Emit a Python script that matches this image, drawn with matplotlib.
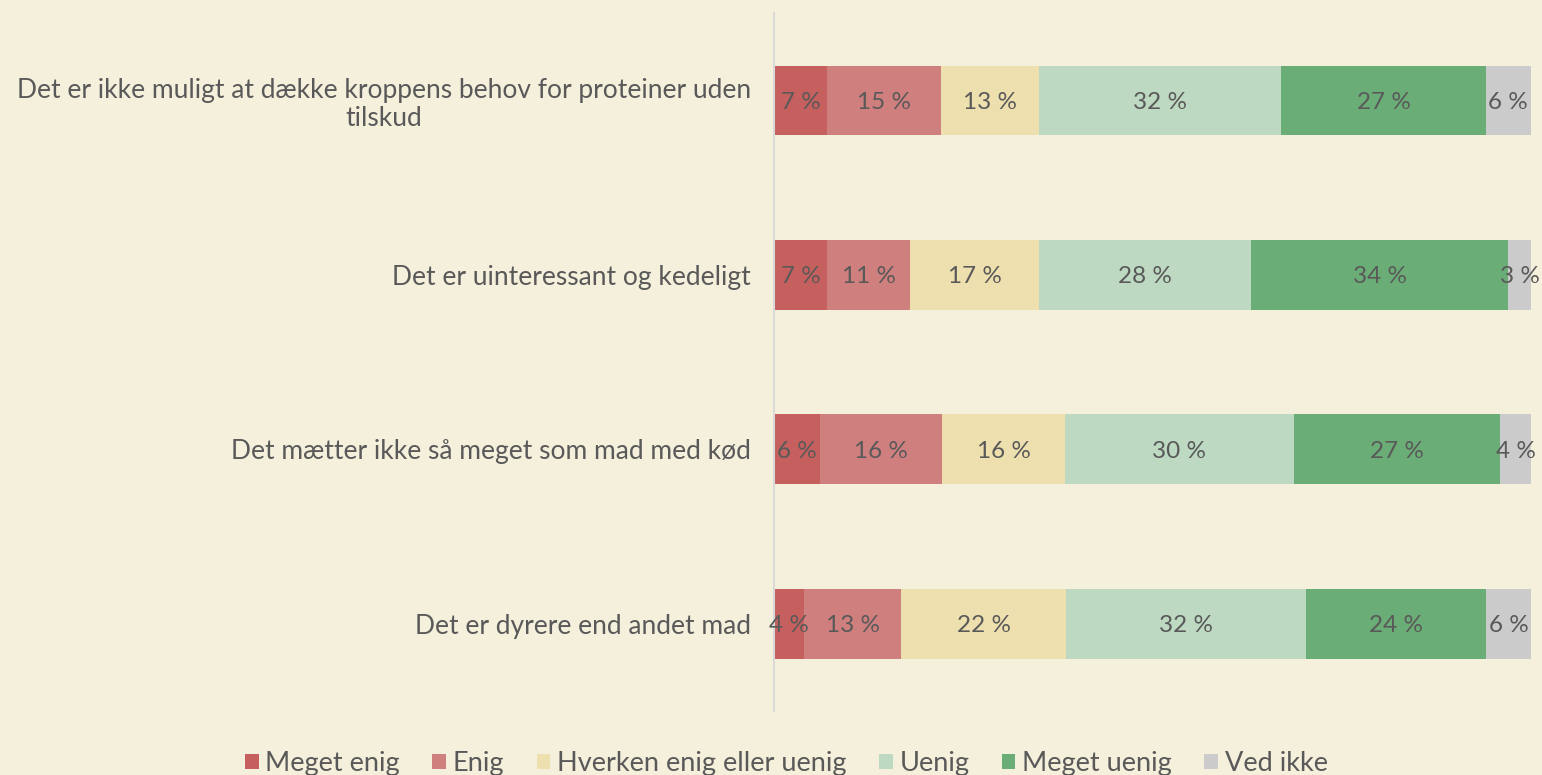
import numpy as np
import matplotlib.pyplot as plt

plt.rcParams['font.family'] = ['Lato', 'DejaVu Sans']

questions = [
    'Det er ikke muligt at dække kroppens behov for proteiner uden\ntilskud',
    'Det er uinteressant og kedeligt',
    'Det mætter ikke så meget som mad med kød',
    'Det er dyrere end andet mad',
]
answers = ['Meget enig', 'Enig', 'Hverken enig eller uenig', 'Uenig',
           'Meget uenig', 'Ved ikke']
colors = ['#C5605E', '#D07F7F', '#EEDFAE', '#BDD9C2', '#6AAD76', '#CBCBCB']

# percent per question, one list per answer
meget_enig = [7, 7, 6, 4]
enig = [15, 11, 16, 13]
hverken = [13, 17, 16, 22]
uenig = [32, 28, 30, 32]
meget_uenig = [27, 34, 27, 24]
ved_ikke = [6, 3, 4, 6]

series = [meget_enig, enig, hverken, uenig, meget_uenig, ved_ikke]
vals = np.array(series, dtype=float)
totals = vals.sum(axis=0)
shares = vals / totals  # stacked to 100 %

bg = '#F5F0DC'
txt = '#595959'

fig = plt.figure(figsize=(15.42, 7.75), dpi=100, facecolor=bg)
ax = fig.add_axes([0.502, 0.0828, 0.4909, 0.9001], facecolor=bg)

y = np.arange(len(questions))
left = np.zeros(len(questions))
for i, name in enumerate(answers):
    ax.barh(y, shares[i], left=left, height=0.4, color=colors[i], label=name)
    for j in range(len(questions)):
        ax.text(left[j] + shares[i][j] / 2, y[j], f'{series[i][j]} %',
                ha='center', va='center_baseline', fontsize=17.5, color=txt)
    left += shares[i]

ax.set_xlim(0, 1)
ax.set_ylim(len(questions) - 0.5, -0.5)
ax.set_yticks(y)
ax.set_yticklabels(questions, fontsize=19, color=txt, ha='right',
                   multialignment='center', linespacing=1.15)
ax.tick_params(axis='y', length=0, pad=16.5)
ax.set_xticks([])
for s in ['top', 'right', 'bottom']:
    ax.spines[s].set_visible(False)
ax.spines['left'].set_color('#D9D9D9')
ax.spines['left'].set_linewidth(1.5)

fig.legend(loc='lower center', bbox_to_anchor=(0.510, -0.033), ncol=6,
           frameon=False, fontsize=19.5, labelcolor=txt,
           handlelength=0.5, handleheight=0.5, handletextpad=0.25,
           columnspacing=1.2)

fig.savefig('out.png', dpi=100, facecolor=bg)
